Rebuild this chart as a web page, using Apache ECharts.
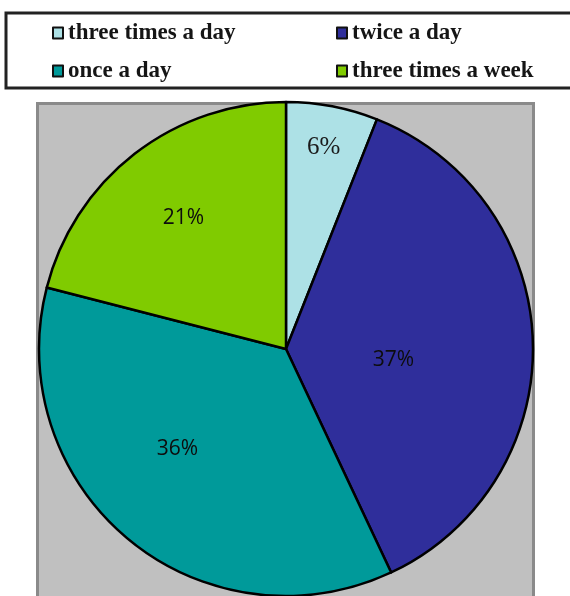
<!DOCTYPE html>
<html>
<head>
<meta charset="utf-8">
<script src="https://cdn.jsdelivr.net/npm/echarts@6/dist/echarts.min.js"></script>
<style>
  html, body { margin: 0; padding: 0; background: #ffffff; }
  #chart { width: 570px; height: 596px; }
</style>
</head>
<body>
<div id="chart"></div>
<script>
// Frequency categories and their shares (%)
const categories = ['three times a day', 'twice a day', 'once a day', 'three times a week'];
const shares = [6, 37, 36, 21];
const colors = ['#ade1e6', '#2f2e9b', '#009a9a', '#80cb00'];

// Label nudges from the default inside spot, per slice
const labelNudge = [[14, -77], [-19, 15], [-28, 3], [-25, -31]];
// Text style key used by each slice's percentage label
const labelStyleKey = ['serif', 'sans', 'sans', 'sans'];

const chart = echarts.init(document.getElementById('chart'), null, { renderer: 'canvas' });

// One legend block per entry, laid out as a 2x2 grid inside the framed box
const legendSpots = [[52, 21], [336, 21], [52, 59], [336, 59]];
const legends = categories.map((name, i) => ({
  data: [name],
  left: legendSpots[i][0],
  top: legendSpots[i][1],
  padding: 0,
  selectedMode: false,
  icon: 'rect',
  itemWidth: 10,
  itemHeight: 11,
  itemStyle: { borderColor: '#111', borderWidth: 2 },
  textStyle: {
    fontFamily: 'Liberation Serif',
    fontWeight: 'bold',
    fontSize: 23,
    lineHeight: 24,
    color: '#151515'
  }
}));

chart.setOption({
  animation: false,
  graphic: [
    {
      type: 'rect',
      z: 0,
      shape: { x: 6, y: 13, width: 568, height: 75 },
      style: { fill: '#ffffff', stroke: '#222', lineWidth: 3 }
    },
    {
      type: 'rect',
      z: 0,
      shape: { x: 37.5, y: 103.5, width: 496, height: 520 },
      style: { fill: '#c0c0c0', stroke: '#8a8a8a', lineWidth: 3 }
    }
  ],
  legend: legends,
  series: [{
    type: 'pie',
    center: [286, 349],
    radius: 247,
    startAngle: 90,
    clockwise: true,
    silent: true,
    itemStyle: { borderColor: '#000', borderWidth: 2.5 },
    label: {
      show: true,
      position: 'inside',
      formatter: p => '{' + labelStyleKey[p.dataIndex] + '|' + p.value + '%}',
      rich: {
        serif: { fontFamily: 'Liberation Serif', fontSize: 25, color: '#1a1a1a' },
        sans: { fontFamily: 'Open Sans', fontSize: 21, color: '#0d0d0d' }
      }
    },
    labelLine: { show: false },
    labelLayout: function (params) {
      const n = labelNudge[params.dataIndex];
      return { dx: n[0], dy: n[1] };
    },
    data: categories.map((name, i) => ({
      name: name,
      value: shares[i],
      itemStyle: { color: colors[i] }
    }))
  }]
});
</script>
</body>
</html>
